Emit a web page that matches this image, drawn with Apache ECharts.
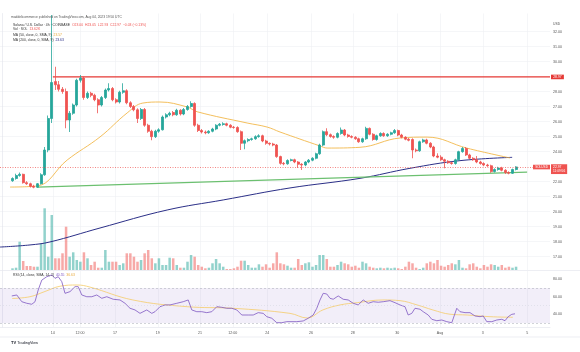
<!DOCTYPE html>
<html><head><meta charset="utf-8">
<script src="https://cdn.jsdelivr.net/npm/echarts@6/dist/echarts.min.js"></script>
<style>html,body{margin:0;padding:0;background:#fff}#c{width:580px;height:352px}</style>
</head><body><div id="c"></div>
<script>
// ---- data: 4h candles [open, close, low, high] ----
const candles = [
[22.05,22.20,21.98,22.28],[22.20,22.40,22.12,22.52],[22.40,22.48,22.32,22.60],[22.48,21.92,21.86,22.52],
[21.92,21.85,21.78,22.02],[21.85,21.68,21.60,21.92],[21.68,21.62,21.55,21.78],[21.62,21.85,21.58,21.90],
[21.85,22.45,21.80,22.55],[22.45,24.10,22.38,24.30],[24.10,26.20,23.95,26.40],[26.20,28.60,25.90,33.10],
[28.66,28.45,28.10,29.65],[28.45,28.15,28.00,28.70],[28.15,28.00,27.85,28.30],[28.00,26.10,25.55,28.20],
[26.10,26.55,25.30,26.70],[26.55,27.10,26.45,27.20],[27.10,28.75,27.00,28.85],[28.75,28.90,28.60,29.10],
[28.90,27.60,27.45,29.00],[27.60,27.88,27.50,28.00],[27.88,27.75,27.62,27.98],[27.75,27.45,27.35,27.85],
[27.45,27.10,26.55,27.55],[27.10,27.60,27.00,27.70],[27.60,28.10,27.50,28.20],[28.10,28.20,28.00,28.55],
[28.20,27.45,27.35,28.30],[27.45,27.30,27.20,27.55],[27.30,27.95,27.20,28.05],[27.95,28.05,27.85,28.55],
[28.05,27.25,27.15,28.15],[27.25,27.00,26.90,27.35],[27.00,26.78,26.68,27.10],[26.78,26.20,25.90,26.88],
[26.20,26.80,26.10,26.90],[26.80,25.75,25.65,26.90],[25.75,25.35,25.25,25.85],[25.35,24.99,24.75,25.45],
[24.99,25.35,24.90,25.45],[25.35,25.45,25.25,25.55],[25.45,26.30,25.40,26.40],[26.30,26.45,26.20,26.55],
[26.45,26.55,26.35,26.65],[26.60,26.45,26.35,26.70],[26.45,26.75,26.38,26.85],[26.75,26.50,26.40,26.82],
[26.50,26.80,26.42,26.90],[26.80,27.00,26.72,27.10],[27.00,27.20,26.92,27.35],[27.20,25.75,25.65,27.28],
[25.75,25.40,25.30,25.85],[25.40,25.30,25.20,25.50],[25.30,25.25,25.15,25.40],[25.25,25.35,25.18,25.42],
[25.35,25.50,25.28,25.58],[25.50,25.75,25.42,25.82],[25.75,25.82,25.68,25.90],[25.80,25.85,25.72,25.95],
[25.85,25.75,25.68,25.92],[25.75,25.62,25.55,25.82],[25.62,25.60,25.52,25.70],[25.60,25.32,25.25,25.68],
[25.32,24.55,24.10,25.40],[24.55,24.72,24.15,24.80],[24.72,24.80,24.62,24.88],[24.80,24.85,24.72,24.92],
[24.85,24.99,24.78,25.08],[24.99,25.05,24.92,25.15],[25.05,24.70,24.62,25.12],[24.70,24.55,24.45,24.78],
[24.55,24.50,24.40,24.60],[24.50,24.43,24.35,24.58],[24.43,23.66,23.58,24.50],[23.66,23.21,23.12,23.72],
[23.21,23.18,23.08,23.30],[23.18,23.40,23.12,23.48],[23.40,23.45,23.34,23.52],[23.45,23.30,23.22,23.52],
[23.30,23.15,22.90,23.36],[23.15,23.10,22.77,23.22],[23.10,23.30,23.02,23.36],[23.30,23.42,23.22,23.50],
[23.42,23.55,23.35,23.62],[23.55,23.85,23.48,23.92],[23.85,24.43,23.78,24.52],[24.43,25.32,24.35,25.40],
[25.32,25.12,25.02,25.55],[25.12,25.00,24.92,25.20],[25.00,24.95,24.85,25.08],[24.95,25.20,24.88,25.28],
[25.20,25.43,25.12,25.60],[25.43,25.10,25.02,25.50],[25.10,25.00,24.92,25.18],[25.00,24.95,24.88,25.08],
[24.95,24.85,24.78,25.02],[24.85,24.65,24.58,24.92],[24.65,24.85,24.58,24.92],[24.85,25.54,24.78,25.65],
[25.54,25.15,25.08,25.60],[25.15,24.80,24.72,25.22],[24.80,25.05,24.72,25.12],[25.05,25.20,24.98,25.28],
[25.20,25.05,24.98,25.28],[25.05,25.15,24.98,25.22],[25.15,25.25,25.08,25.32],[25.25,25.40,25.18,25.50],
[25.40,25.10,25.02,25.46],[25.10,24.95,24.88,25.18],[24.95,24.82,24.75,25.02],[24.82,24.75,24.68,24.90],
[24.80,24.10,23.55,24.88],[24.10,24.05,23.95,24.20],[24.05,24.65,23.98,24.72],[24.65,24.77,24.58,24.85],
[24.77,24.55,24.48,24.85],[24.55,24.30,24.22,24.62],[24.30,23.70,23.62,24.38],[23.70,23.62,23.55,23.88],
[23.62,23.45,23.38,23.75],[23.45,23.35,22.88,23.52],[23.35,23.25,23.18,23.42],[23.25,23.20,23.12,23.32],
[23.20,23.45,23.12,23.52],[23.45,23.99,23.38,24.05],[23.99,24.20,23.92,24.30],[24.20,23.77,23.70,24.30],
[23.77,23.55,23.48,23.85],[23.55,23.45,23.38,23.62],[23.45,23.30,23.22,23.70],[23.30,23.20,23.12,23.38],
[23.20,23.10,23.02,23.28],[23.10,23.05,22.98,23.18],[23.05,22.66,22.58,23.12],[22.66,22.80,22.60,22.88],
[22.80,22.90,22.72,22.98],[22.90,22.75,22.68,22.98],[22.75,22.60,22.50,22.82],[22.60,22.55,22.48,22.68],
[22.55,22.80,22.50,22.86],[22.80,22.97,22.74,23.02]
];
// volume (K SOL) per candle
const volumes = [
17,23,283,90,40,40,33,33,267,617,133,550,117,117,167,433,133,177,100,83,
177,117,50,83,23,23,200,83,83,83,50,67,167,167,133,83,100,167,200,117,
67,117,50,50,123,117,50,23,23,83,150,133,50,33,17,23,67,110,67,33,
10,10,17,33,93,93,50,23,23,57,33,57,23,67,177,67,57,43,23,23,
110,50,67,77,33,50,150,150,110,33,33,50,83,67,57,33,43,23,83,67,
33,23,17,23,17,23,17,23,17,10,33,83,67,23,10,23,67,83,67,100,
43,33,50,67,57,100,23,17,57,67,33,17,50,33,57,50,33,50,23,33,
23,33
];
// moving averages [slot, price]
const ma50 = [[2.3,21.63],[9.9,21.70],[18.3,23.43],[27.5,24.97],[35.1,26.57],[39.5,27.23],[44.3,27.30],
[51.9,26.97],[54.7,26.65],[68.7,25.90],[74.3,25.63],[77.9,25.30],[89.1,24.37],[91.1,24.23],[100.3,24.28],
[111.5,24.90],[119.1,24.96],[130.3,24.22],[142.3,23.57]];
const ma200 = [[-0.5,17.63],[7.9,17.77],[13.5,17.97],[27.5,18.90],[46.3,20.10],[62,20.77],[80.7,21.57],
[100.3,22.21],[114.3,22.88],[128.3,23.39],[142.9,23.61]];
const trendLine = [[9.9,21.63],[147.1,22.63]];
const resistance = [[14.3,28.97],[153.5,28.97]];
const lastPrice = 22.97;
const rsi = [[2.8,60.9],[4.2,62],[5.6,54.3],[7.0,52.5],[8.4,51.4],[9.3,54.3],[10.2,67.7],[11.2,79],[12.6,82.9],
[14.0,84.9],[14.9,81],[15.8,82.9],[16.8,77.2],[17.7,63.9],[19.1,65.8],[20.5,71.5],[21.4,71.5],[22.4,62],
[23.8,60],[25.2,60],[26.6,62],[28.0,58.2],[29.4,60],[31.2,57.1],[33.1,56.3],[34.5,52.5],[35.9,46.8],
[37.3,44.9],[38.7,41],[40.6,44.9],[42.0,41],[42.9,42.9],[44.3,48.6],[45.7,50.6],[47.1,50.6],[49.0,52.5],
[50.8,54.3],[52.2,56.3],[53.2,44.9],[54.6,42.9],[56.0,42.9],[57.4,41.8],[58.8,42.9],[60.2,48.6],[61.6,47.9],
[63.0,46.8],[64.4,46.8],[65.8,44.9],[67.2,39.1],[69.0,39.1],[70.4,39.1],[71.8,41.8],[73.2,41],[74.2,37.2],
[75.6,35.4],[77.0,30.3],[78.4,30.3],[79.8,31.5],[80.7,31.5],[82.6,31.5],[84.4,32.3],[85.8,35.4],[87.2,39.1],
[88.2,46.8],[89.1,56.3],[90.0,63.9],[91.0,63.1],[91.9,58.2],[92.8,57.1],[94.2,60.9],[95.6,57.1],[97.0,56.3],
[98.4,52.5],[99.8,50.6],[101.2,56.3],[102.6,52.5],[104.0,54.3],[105.4,53.7],[106.8,54.3],[108.7,55.5],
[110.1,53.2],[111.5,50.6],[112.9,48.6],[113.8,39.1],[114.8,41],[115.7,46.8],[117.1,45.7],[118.0,42.9],
[119.4,39.1],[120.4,34.2],[121.8,32.6],[123.2,33.4],[124.6,31.5],[126.0,30.3],[127.4,46.8],[128.3,42.9],
[129.7,41.8],[131.1,41.8],[132.5,38],[133.9,37.2],[134.8,38],[135.8,31.5],[137.2,31.5],[138.6,33.4],
[140.0,34.2],[140.9,32.6],[141.8,37.2],[142.8,39.9],[143.7,40.5]];
const rsiMa = [[2.9,58],[7.9,60],[12.1,66],[16.3,72],[21.1,73.4],[24.7,71],[36.7,56.3],[51.9,48.6],[64.7,46.8],
[80.7,41],[85.5,35.7],[89.9,44.9],[94.7,50.6],[99.5,53.2],[106.7,56.3],[111.5,55.5],[116.3,50.6],[120.7,44.9],
[125.5,40],[130.3,39.1],[136.7,37.2],[143.1,36.5]];
const timeLabels = ['14','12:00','17','19','21','12:00','24','26','28','30','Aug','3','5'];
const timeSlots = [14.3,21.9,31.7,43.7,55.5,64.7,74.3,86.6,98.3,110.7,122.7,134.7,147.1];
const priceTicks = [17,18,19,20,21,22,24,25,26,27,28,30,31,32];
const rsiTicks = [40,60,80];

// ---- layout ----
const SLOTS = 154, FIRST = 3;
const UP = '#26a69a', DOWN = '#ef5350';
const FONT = 'Liberation Sans, Arial, sans-serif';
const cats = Array.from({length: SLOTS}, (_, i) => String(i));
const candleData = cats.map((_, i) => candles[i - FIRST] ? candles[i - FIRST].slice() : '-');
const volData = cats.map((_, i) => volumes[i - FIRST] !== undefined ? volumes[i - FIRST] : '-');
const nearestLabel = v => { let b = 0; timeSlots.forEach((s, k) => { if (Math.abs(s - v) < Math.abs(timeSlots[b] - v)) b = k; }); return timeLabels[b]; };
const gridLine = {show: true, lineStyle: {color: '#eef0f4', width: 0.6}};

const chart = echarts.init(document.getElementById('c'), null, {renderer: 'canvas', width: 580, height: 352});
const option = {
  animation: false,
  backgroundColor: '#ffffff',
  textStyle: {fontFamily: FONT},
  grid: [
    {left: 0, right: 30, top: 13.5, height: 256.5},
    {left: 0, right: 30, top: 180, height: 90},
    {left: 0, right: 30, top: 271, height: 56}
  ],
  xAxis: [
    {type: 'category', gridIndex: 0, data: cats, show: false},
    {type: 'value', gridIndex: 0, min: -0.5, max: 153.5, axisLine: {show: false}, axisLabel: {show: false},
     axisTick: {show: false, customValues: timeSlots}, splitLine: gridLine},
    {type: 'category', gridIndex: 1, data: cats, show: false},
    {type: 'value', gridIndex: 2, min: -0.5, max: 153.5, axisLine: {show: true, lineStyle: {color: '#e0e3eb', width: 0.6}},
     axisTick: {show: false, customValues: timeSlots}, splitLine: gridLine,
     axisLabel: {customValues: timeSlots, formatter: v => nearestLabel(v), fontSize: 3.6, color: '#555', margin: 4, fontFamily: FONT}}
  ],
  yAxis: [
    {type: 'value', gridIndex: 0, position: 'right', min: 16.1, max: 33.2, scale: true,
     axisLine: {show: true, lineStyle: {color: '#e0e3eb', width: 0.6}}, axisTick: {show: false, customValues: priceTicks},
     splitLine: gridLine,
     axisLabel: {customValues: priceTicks, formatter: v => v.toFixed(2), fontSize: 3.6, color: '#555', margin: 3, fontFamily: FONT}},
    {type: 'value', gridIndex: 1, min: 0, max: 900, show: false},
    {type: 'value', gridIndex: 2, position: 'right', min: 25.4, max: 89.4,
     axisLine: {show: true, lineStyle: {color: '#e0e3eb', width: 0.6}}, axisTick: {show: false, customValues: rsiTicks},
     splitLine: {show: false},
     axisLabel: {customValues: rsiTicks, formatter: v => v.toFixed(2), fontSize: 3.6, color: '#555', margin: 3, fontFamily: FONT}}
  ],
  series: [
    {type: 'bar', xAxisIndex: 2, yAxisIndex: 1, data: volData, barWidth: '70%', z: 1,
     itemStyle: {color: p => { const c = candles[p.dataIndex - FIRST]; return c && c[1] >= c[0] ? 'rgba(38,166,154,0.5)' : 'rgba(239,83,80,0.5)'; }}},
    {type: 'line', xAxisIndex: 1, yAxisIndex: 0, data: ma200, smooth: 0.4, showSymbol: false, z: 3,
     lineStyle: {color: '#2b2f87', width: 1}},
    {type: 'line', xAxisIndex: 1, yAxisIndex: 0, data: ma50, smooth: 0.4, showSymbol: false, z: 3,
     lineStyle: {color: '#f2b84b', width: 0.9}},
    {type: 'line', xAxisIndex: 1, yAxisIndex: 0, data: trendLine, showSymbol: false, z: 3,
     lineStyle: {color: '#6cc070', width: 1.3}},
    {type: 'line', xAxisIndex: 1, yAxisIndex: 0, data: resistance, showSymbol: false, z: 3,
     lineStyle: {color: '#e53935', width: 1.3},
     endLabel: {show: true, formatter: p => p.value[1].toFixed(2), distance: 1, color: '#fff', backgroundColor: '#e53935',
                fontSize: 3.4, padding: [0.8, 2.2], fontFamily: FONT}},
    {type: 'candlestick', xAxisIndex: 0, yAxisIndex: 0, data: candleData, barWidth: '70%', z: 4,
     itemStyle: {color: UP, color0: DOWN, borderColor: UP, borderColor0: DOWN, borderWidth: 0.8},
     markLine: {silent: true, symbol: ['none', 'none'], animation: false,
       lineStyle: {color: '#ef5350', type: [1, 1.5], width: 0.7},
       label: {show: true, position: 'end', distance: 1, offset: [0, 2.2],
         formatter: p => '{p|' + p.value.toFixed(2) + '}\n{t|11:09:56}',
         backgroundColor: '#ef5350', padding: [0.6, 2], fontFamily: FONT,
         rich: {p: {color: '#fff', fontSize: 3.4, lineHeight: 4.3, fontFamily: FONT}, t: {color: '#fff', fontSize: 3.2, lineHeight: 4.3, fontFamily: FONT}}},
       data: [{yAxis: lastPrice}]}},
    {type: 'line', xAxisIndex: 3, yAxisIndex: 2, data: rsiMa, smooth: 0.4, showSymbol: false, z: 3,
     lineStyle: {color: '#f5cc68', width: 0.8}},
    {type: 'line', xAxisIndex: 3, yAxisIndex: 2, data: rsi, showSymbol: false, z: 4,
     lineStyle: {color: '#7e57c2', width: 0.8},
     markArea: {silent: true, itemStyle: {color: 'rgba(126,87,194,0.1)'}, data: [[{yAxis: 70}, {yAxis: 30}]]},
     markLine: {silent: true, symbol: ['none', 'none'], label: {show: false},
       data: [{yAxis: 70, lineStyle: {color: '#b2b5be', type: [2, 2], width: 0.6}},
              {yAxis: 50, lineStyle: {color: '#d1d4dc', type: [1, 2], width: 0.5}},
              {yAxis: 30, lineStyle: {color: '#b2b5be', type: [2, 2], width: 0.6}}]}}
  ]
};
chart.setOption(option);

// overlays: legend texts, symbol label, separators
const yLast = chart.convertToPixel({yAxisIndex: 0}, lastPrice);
const T = (x, y, text, rich, size, extra) => Object.assign({type: 'text', x: x, y: y, z: 100, silent: true,
  style: {text: text, rich: rich || {}, fontSize: size || 3.4, fontFamily: FONT, fill: '#333', verticalAlign: 'middle'}}, extra || {});
chart.setOption({graphic: [
  T(11, 16.7, 'maddelicommerce published on TradingView.com, Aug 04, 2023 19:50 UTC', null, 3.3, {style: {text: 'maddelicommerce published on TradingView.com, Aug 04, 2023 19:50 UTC', fontSize: 3.3, fontFamily: FONT, fill: '#555', verticalAlign: 'middle'}}),
  T(13, 25, '{a|Solana / U.S. Dollar · 4h · COINBASE  }{b|O23.00  H23.05  L22.93  C22.97  −0.03 (−0.13%)}',
    {a: {fill: '#333', fontSize: 3.4, fontFamily: FONT}, b: {fill: '#ef5350', fontSize: 3.4, fontFamily: FONT}}),
  T(13, 29.5, '{a|Vol · SOL  }{b|13.62K}', {a: {fill: '#333', fontSize: 3.4, fontFamily: FONT}, b: {fill: '#ef5350', fontSize: 3.4, fontFamily: FONT}}),
  T(13, 35, '{a|MA (50, close, 0, SMA, 9)  }{b|23.57}', {a: {fill: '#333', fontSize: 3.4, fontFamily: FONT}, b: {fill: '#e8a93a', fontSize: 3.4, fontFamily: FONT}}),
  T(13, 40.3, '{a|MA (200, close, 0, SMA, 9)  }{b|23.63}', {a: {fill: '#333', fontSize: 3.4, fontFamily: FONT}, b: {fill: '#2b2f87', fontSize: 3.4, fontFamily: FONT}}),
  T(13, 275.5, '{a|RSI (14, close, SMA, 14, 2)  }{b|40.55}{a|  }{c|36.63}', {a: {fill: '#333', fontSize: 3.4, fontFamily: FONT}, b: {fill: '#7e57c2', fontSize: 3.4, fontFamily: FONT}, c: {fill: '#e8a93a', fontSize: 3.4, fontFamily: FONT}}),
  T(11, 342.5, '{a|TV}{b| TradingView}', {a: {fill: '#131722', fontSize: 4, fontWeight: 'bold', fontFamily: FONT}, b: {fill: '#131722', fontSize: 3.8, fontFamily: FONT}}),
  T(553, 24, 'USD', null, 3.4, {style: {text: 'USD', fontSize: 3.4, fontFamily: FONT, fill: '#555', verticalAlign: 'middle'}}),
  {type: 'rect', z: 100, silent: true, shape: {x: 533, y: yLast - 2.2, width: 17, height: 4.6}, style: {fill: '#ef5350'}},
  T(541.5, yLast + 0.1, 'SOLUSD', null, 3.1, {style: {text: 'SOLUSD', fontSize: 3.1, fontFamily: FONT, fill: '#fff', align: 'center', verticalAlign: 'middle'}}),
  {type: 'line', z: 100, silent: true, shape: {x1: 0, y1: 270.5, x2: 580, y2: 270.5}, style: {stroke: '#e0e3eb', lineWidth: 0.6}},
  {type: 'line', z: 100, silent: true, shape: {x1: 0, y1: 337, x2: 580, y2: 337}, style: {stroke: '#e0e3eb', lineWidth: 0.6}}
]});
</script>
</body></html>
